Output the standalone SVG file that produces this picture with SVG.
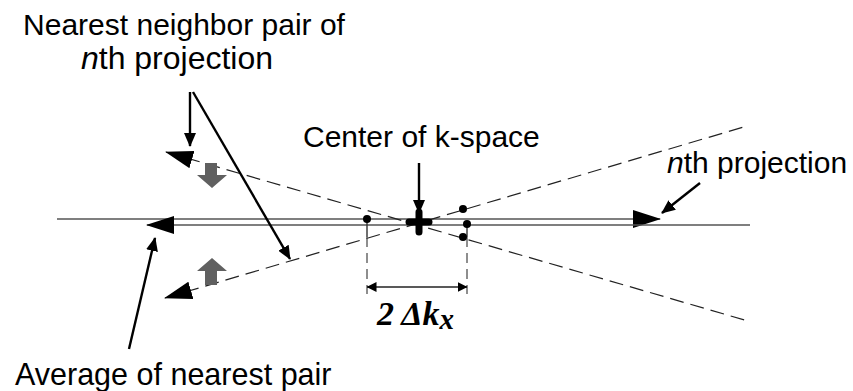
<svg xmlns="http://www.w3.org/2000/svg" width="853" height="391" viewBox="0 0 853 391">
<defs>
<style>
.lbl{font-family:"Liberation Sans",Arial,sans-serif;font-size:30px;fill:#000}
.axis{stroke:#555;stroke-width:1.6;fill:none}
.dash{stroke:#222;stroke-width:1.2;fill:none;stroke-dasharray:14 7}
.vdash{stroke:#444;stroke-width:1.2;fill:none;stroke-dasharray:10 6}
.ptr{stroke:#000;stroke-width:2.4;fill:none}
.dot{fill:#000}
.blk{fill:#606060}
</style>
<marker id="big" viewBox="0 0 28 18" refX="27" refY="9" markerWidth="28" markerHeight="18" markerUnits="userSpaceOnUse" orient="auto-start-reverse"><path d="M0,0 L28,9 L0,18 z" fill="#000"/></marker>
<marker id="ptr" viewBox="0 0 14 12" refX="13" refY="6" markerWidth="14" markerHeight="12" markerUnits="userSpaceOnUse" orient="auto-start-reverse"><path d="M0,0 L14,6 L0,12 z" fill="#000"/></marker>
<marker id="dim" viewBox="0 0 10 10" refX="9.5" refY="5" markerWidth="10" markerHeight="10" markerUnits="userSpaceOnUse" orient="auto-start-reverse"><path d="M0,0 L10,5 L0,10 z" fill="#000"/></marker>
</defs>
<g id="connectors">
<path class="axis" d="M57,219 H660" marker-end="url(#big)"/>
<path class="axis" d="M147,225 H750" marker-start="url(#big)"/>
<path class="dash" d="M166,152 L748,321" marker-start="url(#big)"/>
<path class="dash" d="M165,298 L747,126" marker-start="url(#big)"/>
<path class="ptr" d="M190,92 V146" marker-end="url(#ptr)"/>
<path class="ptr" d="M193,92 L290,259" marker-end="url(#ptr)"/>
<path class="ptr" d="M419,163 V213" marker-end="url(#ptr)"/>
<path class="ptr" d="M700,183 L662,213" marker-end="url(#ptr)"/>
<path class="ptr" d="M129,349 L155,238" marker-end="url(#ptr)"/>
<path d="M367,219 V237 M467,224 V237" stroke="#333" stroke-width="1.4" fill="none"/>
<path class="vdash" d="M367,237 V294 M467,237 V294"/>
<path d="M367,287 H467" stroke="#222" stroke-width="1.4" fill="none" marker-start="url(#dim)" marker-end="url(#dim)"/>
</g>
<g id="center">
<path d="M409,222 H429 M419,212 V232" stroke="#000" stroke-width="7" stroke-linecap="round"/>
</g>
<g id="dots">
<circle class="dot" cx="367" cy="219" r="4"/>
<circle class="dot" cx="463" cy="209" r="4"/>
<circle class="dot" cx="467" cy="224" r="4"/>
<circle class="dot" cx="463" cy="237" r="4"/>
</g>
<g id="shift-arrows">
<polygon class="blk" points="205,163 217,163 217,175 227,175 212,188 197,175 205,175"/>
<polygon class="blk" points="212,258 227,271 217,271 217,285 205,285 205,271 197,271"/>
</g>
<g id="label-nearest">
<text class="lbl" x="184" y="35" text-anchor="middle">Nearest neighbor pair of</text>
<text class="lbl" x="177" y="69" text-anchor="middle" style="font-size:32px"><tspan font-style="italic">n</tspan>th projection</text>
</g>
<g id="label-center">
<text class="lbl" x="303" y="147">Center of k-space</text>
</g>
<g id="label-proj">
<text class="lbl" x="667" y="173"><tspan font-style="italic">n</tspan>th projection</text>
</g>
<g id="label-average">
<text class="lbl" x="15" y="385" style="font-size:30.5px">Average of nearest pair</text>
</g>
<g id="label-dk">
<text x="377" y="325" font-family="Liberation Serif,'Times New Roman',serif" font-weight="bold" font-style="italic" font-size="34">2 Δk<tspan font-size="29" dy="4">x</tspan></text>
</g>
</svg>
